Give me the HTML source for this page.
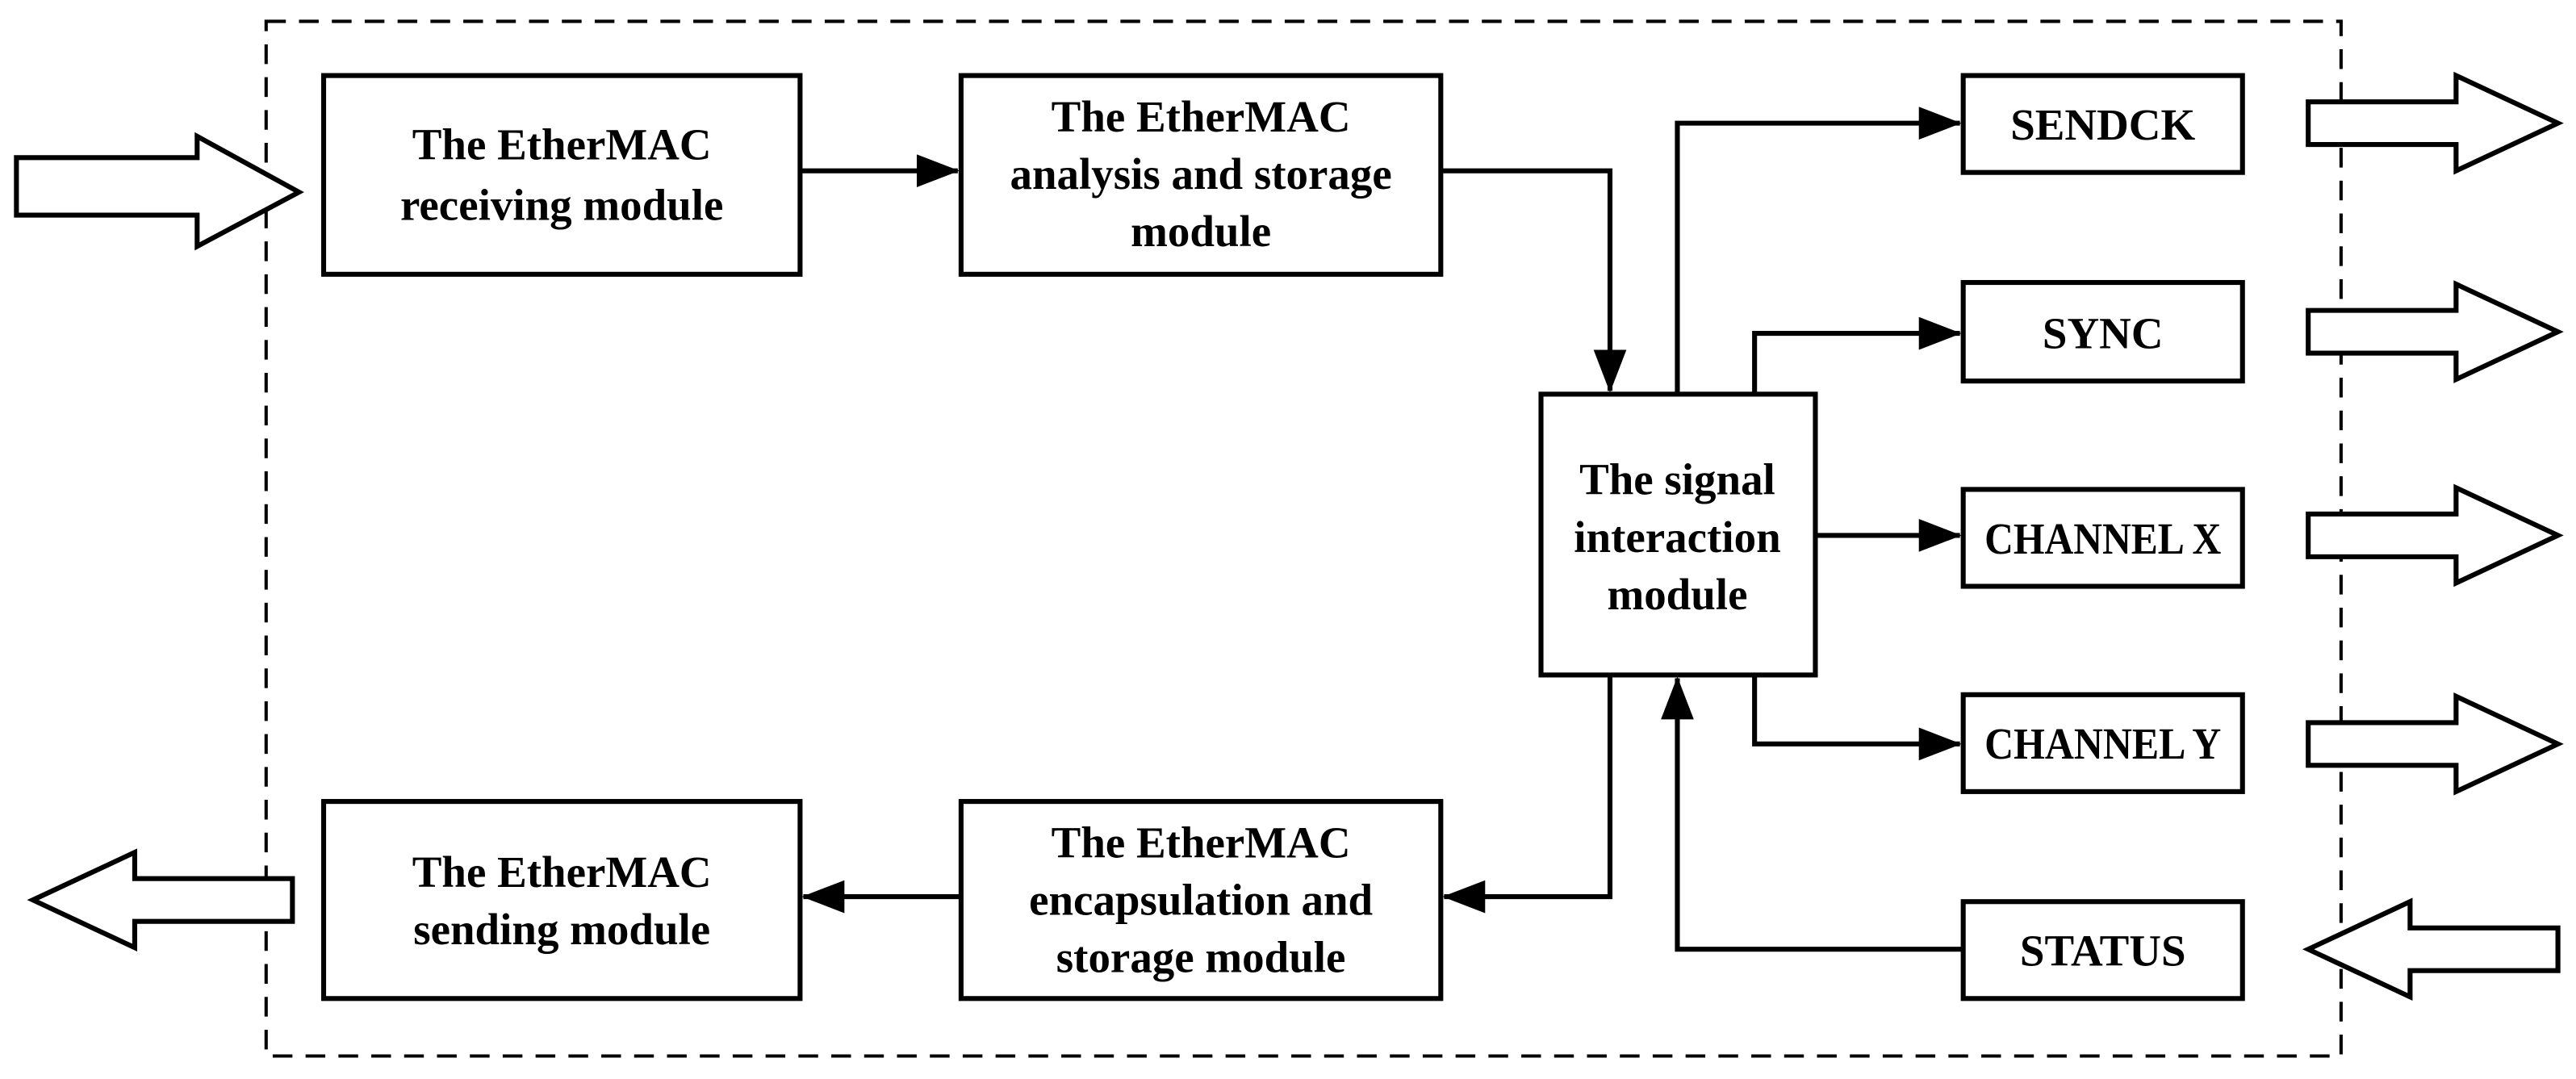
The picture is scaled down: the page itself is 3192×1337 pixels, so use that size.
<!DOCTYPE html>
<html><head><meta charset="utf-8"><style>html,body{margin:0;padding:0;background:#fff}svg{display:block}</style></head><body>
<svg width="3192" height="1337" viewBox="0 0 1568 657" preserveAspectRatio="none" xmlns="http://www.w3.org/2000/svg">
<defs>
<marker id="b" markerWidth="26" markerHeight="20" refX="25" refY="10" orient="auto" markerUnits="userSpaceOnUse"><path d="M0,0 L26,10 L0,20 Z" fill="#000"/></marker></defs>
<rect x="162" y="13" width="1263" height="630" fill="none" stroke="#000" stroke-width="2" stroke-dasharray="12,8"/>
<g fill="#fff" stroke="#000" stroke-width="3">
<rect x="197" y="46" width="290" height="121"/>
<rect x="585" y="46" width="292" height="121"/>
<rect x="938" y="240" width="167" height="171"/>
<rect x="1195" y="46" width="170" height="59"/>
<rect x="1195" y="172" width="170" height="60"/>
<rect x="1195" y="298" width="170" height="59"/>
<rect x="1195" y="423" width="170" height="59"/>
<rect x="1195" y="549" width="170" height="59"/>
<rect x="197" y="488" width="290" height="120"/>
<rect x="585" y="488" width="292" height="120"/>
<path d="M10,96 H120 V83 L182,117 L120,150 V131 H10 Z"/>
<path d="M1405,62 H1495 V46 L1557,75 L1495,104 V88 H1405 Z"/>
<path d="M1405,189 H1495 V173 L1557,202 L1495,231 V215 H1405 Z"/>
<path d="M1405,313 H1495 V297 L1557,326 L1495,355 V339 H1405 Z"/>
<path d="M1405,440 H1495 V424 L1557,453 L1495,482 V466 H1405 Z"/>
<path d="M1557,565 H1467 V549 L1405,578 L1467,607 V591 H1557 Z"/>
<path d="M178,535 H82 V519 L20,548 L82,577 V561 H178 Z"/>
</g>
<g fill="none" stroke="#000" stroke-width="3">
<path d="M487,104 H583" marker-end="url(#b)"/>
<path d="M877,104 H980 V238" marker-end="url(#b)"/>
<path d="M1021,240 V75 H1193" marker-end="url(#b)"/>
<path d="M1068,240 V203 H1193" marker-end="url(#b)"/>
<path d="M1105,326 H1193" marker-end="url(#b)"/>
<path d="M1068,411 V453 H1193" marker-end="url(#b)"/>
<path d="M980,411 V546 H879" marker-end="url(#b)"/>
<path d="M1195,578 H1021 V413" marker-end="url(#b)"/>
<path d="M585,546 H489" marker-end="url(#b)"/>
</g>
<g font-family="Liberation Serif, serif" font-weight="bold" font-size="27" text-anchor="middle" fill="#000">
<text x="342" y="97">The EtherMAC</text><text x="342" y="134">receiving module</text>
<text x="731" y="80">The EtherMAC</text><text x="731" y="115">analysis and storage</text><text x="731" y="150">module</text>
<text x="1021" y="301">The signal</text><text x="1021" y="336">interaction</text><text x="1021" y="371">module</text>
<text x="1280" y="85">SENDCK</text><text x="1280" y="212">SYNC</text>
<text x="1280" y="337" textLength="144" lengthAdjust="spacingAndGlyphs">CHANNEL X</text>
<text x="1280" y="462" textLength="144" lengthAdjust="spacingAndGlyphs">CHANNEL Y</text>
<text x="1280" y="588">STATUS</text>
<text x="342" y="540">The EtherMAC</text><text x="342" y="575">sending module</text>
<text x="731" y="522">The EtherMAC</text><text x="731" y="557">encapsulation and</text><text x="731" y="592">storage module</text>
</g>
</svg>
</body></html>
